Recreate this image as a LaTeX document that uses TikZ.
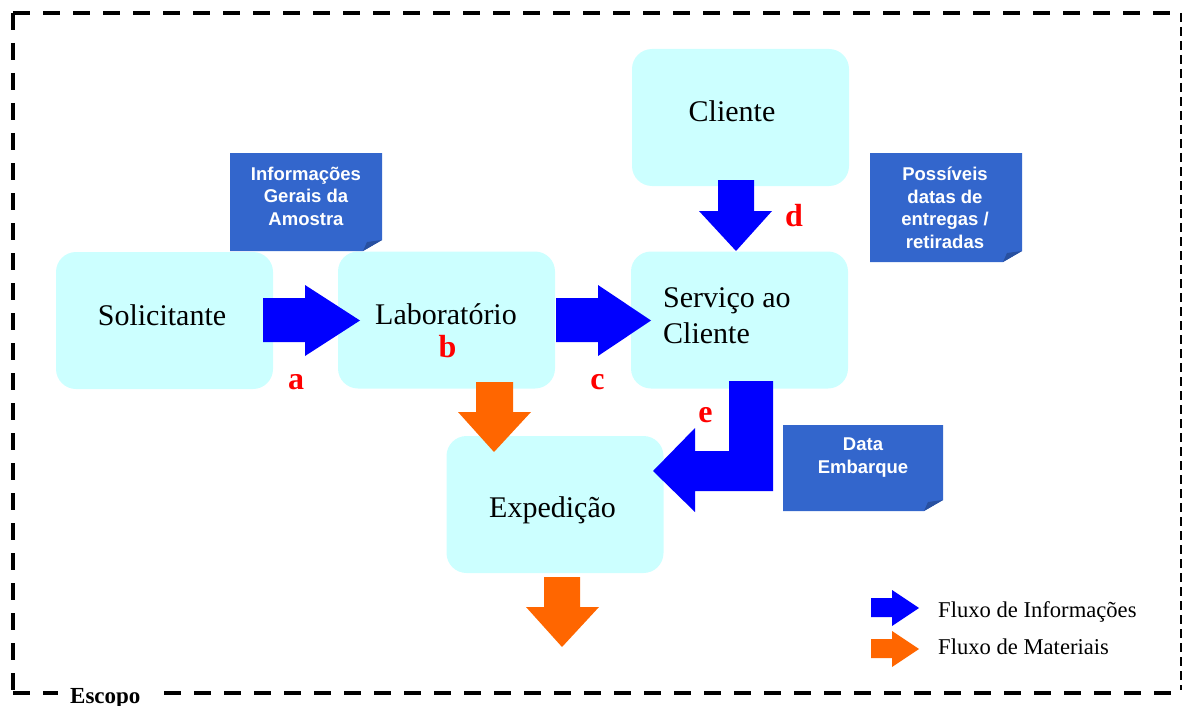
\documentclass[tikz,border=0pt]{standalone}
\usepackage{fontspec}
\setmainfont{Liberation Serif}
\newfontfamily\notefont{Liberation Sans}
\definecolor{boxfill}{HTML}{CCFFFF}
\definecolor{infoblue}{HTML}{0000FF}
\definecolor{matorange}{HTML}{FF6600}
\definecolor{notefill}{HTML}{3366CC}
\definecolor{notefold}{HTML}{2850A0}
\definecolor{tagred}{HTML}{FF0000}
\begin{document}
\begin{tikzpicture}[x=1pt,y=-1pt,
  stage/.style={fill=boxfill, rounded corners=20pt, inner sep=0pt, minimum width=217pt, minimum height=137pt},
  stagetext/.style={anchor=base, inner sep=0pt, font=\fontsize{30}{36}\selectfont},
  tag/.style={anchor=base, inner sep=0pt, text=tagred, font=\fontsize{32}{36}\selectfont\bfseries},
  notetext/.style={anchor=base, inner sep=0pt, align=center, text=white, font=\notefont\fontsize{18.5}{22.4}\selectfont\bfseries},
  infoarrow/.style={fill=infoblue},
  matarrow/.style={fill=matorange},
  scope border/.style={line width=4.5pt, dash pattern=on 17pt off 13pt},
  scope edge/.style={line width=1.5pt, dash pattern=on 9pt off 5pt},
  legendtext/.style={anchor=base west, inner sep=0pt, font=\fontsize{22.6}{26}\selectfont}]

\useasboundingbox (0,0) rectangle (1183,706);

% scope frame
\draw[scope border] (13,13) -- (1181,13);
\draw[scope border] (13,13) -- (13,693);
\draw[scope border] (13,693) -- (58,693);
\draw[scope border] (164,693) -- (1172,693);
\draw[scope edge] (1181,13) -- (1181,690);
\node[anchor=base west, inner sep=0pt, font=\fontsize{23}{26}\selectfont\bfseries] (escopo) at (70,703) {Escopo};

% process boxes
\node[stage] (sol) at (164.5,320.5) {};
\node[stage] (lab) at (446.5,320) {};
\node[stage] (svc) at (739.5,320) {};
\node[stage] (cli) at (740.5,117.5) {};
\node[stage] (exp) at (555,504.5) {};

\node[stagetext] (solT) at (162,325) {Solicitante};
\node[stagetext] (labT) at (446,324) {Laboratório};
\node[stagetext, anchor=base west] (svcT1) at (663,307) {Serviço ao};
\node[stagetext, anchor=base west] (svcT2) at (663,343) {Cliente};
\node[stagetext] (cliT) at (732,122) {Cliente};
\node[stagetext] (expT) at (552.5,517) {Expedição};

% information notes with folded corner (text anchored on its last line)
\fill[notefill] (230,153) -- (382,153) -- (382,240) -- (363,251) -- (230,251) -- cycle;
\fill[notefold] (363,251) -- (382,240) -- (367,242) -- cycle;
\node[notetext] (noteA) at (306,225) {Informações\\Gerais da\\Amostra};

\fill[notefill] (870,153) -- (1022,153) -- (1022,251) -- (1003,262) -- (870,262) -- cycle;
\fill[notefold] (1003,262) -- (1022,251) -- (1007,253) -- cycle;
\node[notetext] (noteD) at (945,248) {Possíveis\\datas de\\entregas /\\retiradas};

\fill[notefill] (783,425) -- (943,425) -- (943,500) -- (924,511) -- (783,511) -- cycle;
\fill[notefold] (924,511) -- (943,500) -- (928,502) -- cycle;
\node[notetext] (noteE) at (863,473) {Data\\Embarque};

% information flow arrows
\fill[infoarrow] (263,298) -- (305,298) -- (305,285) -- (360,320.5) -- (305,356) -- (305,342) -- (263,342) -- cycle;
\fill[infoarrow] (556,298) -- (598,298) -- (598,285) -- (651,320.5) -- (598,356) -- (598,342) -- (556,342) -- cycle;
\fill[infoarrow] (718,180) -- (754,180) -- (754,211) -- (772,211) -- (736,251) -- (699,211) -- (718,211) -- cycle;
\fill[infoarrow] (729,381) -- (773,381) -- (773,491) -- (695,491) -- (695,512) -- (653,471) -- (695,428) -- (695,451) -- (729,451) -- cycle;

% material flow arrows
\fill[matarrow] (476,382) -- (513,382) -- (513,412) -- (531,412) -- (494,452) -- (458,412) -- (476,412) -- cycle;
\fill[matarrow] (544,577) -- (580,577) -- (580,607) -- (599,607) -- (562,647) -- (526,607) -- (544,607) -- cycle;

% flow tags
\node[tag] (tagA) at (296,389) {a};
\node[tag] (tagB) at (447.5,357) {b};
\node[tag] (tagC) at (597.5,389) {c};
\node[tag] (tagD) at (794,226) {d};
\node[tag] (tagE) at (705.5,422) {e};

% legend
\fill[infoarrow] (871,598) -- (892,598) -- (892,590) -- (919,608) -- (892,626) -- (892,617) -- (871,617) -- cycle;
\fill[matarrow] (871,639) -- (892,639) -- (892,631) -- (919,649) -- (892,667) -- (892,658) -- (871,658) -- cycle;
\node[legendtext] (legInfo) at (938,617) {Fluxo de Informações};
\node[legendtext] (legMat) at (938,654) {Fluxo de Materiais};
\end{tikzpicture}
\end{document}
